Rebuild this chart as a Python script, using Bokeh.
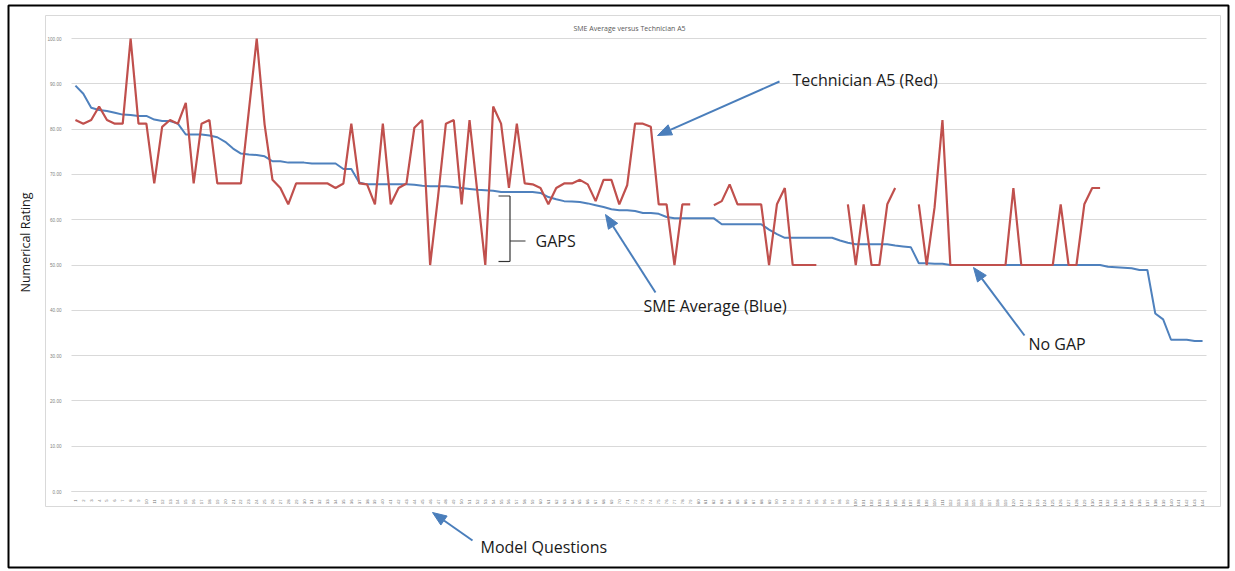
import math
from bokeh.plotting import figure
from bokeh.models import (Range1d, FixedTicker, Label, BoxAnnotation,
                          PolyAnnotation, NumeralTickFormatter)
from bokeh.embed import file_html
from bokeh.resources import INLINE

NA = float("nan")

# ---- data -------------------------------------------------------------
question_labels = [str(i) for i in range(1, 145)]

sme_average = [
    89.6, 87.8, 84.7, 84.2, 84.0, 83.6, 83.2, 83.1, 82.9, 82.9,
    82.1, 81.8, 81.8, 81.2, 78.8, 78.8, 78.8, 78.6, 78.2, 77.2,
    75.7, 74.6, 74.4, 74.3, 74.0, 72.9, 72.9, 72.6, 72.6, 72.6,
    72.4, 72.4, 72.4, 72.4, 71.2, 71.2, 68.2, 67.8, 67.8, 67.8,
    67.8, 67.8, 67.8, 67.7, 67.5, 67.4, 67.4, 67.4, 67.2, 67.0,
    66.8, 66.6, 66.5, 66.4, 66.1, 66.1, 66.1, 66.1, 66.1, 65.9,
    65.0, 64.5, 64.1, 64.0, 63.9, 63.6, 63.2, 62.8, 62.3, 62.1,
    62.1, 61.9, 61.5, 61.5, 61.3, 60.6, 60.3, 60.3, 60.3, 60.3,
    60.3, 60.3, 59.0, 59.0, 59.0, 59.0, 59.0, 59.0, 57.8, 56.8,
    56.0, 56.0, 56.0, 56.0, 56.0, 56.0, 56.0, 55.4, 54.9, 54.6,
    54.6, 54.6, 54.6, 54.6, 54.3, 54.1, 53.9, 50.4, 50.4, 50.3,
    50.3, 50.0, 50.0, 50.0, 50.0, 50.0, 50.0, 50.0, 50.0, 50.0,
    50.0, 50.0, 50.0, 50.0, 50.0, 50.0, 50.0, 50.0, 50.0, 50.0,
    50.0, 49.6, 49.5, 49.4, 49.3, 48.9, 48.9, 39.3, 38.0, 33.5,
    33.5, 33.5, 33.2, 33.2,
]

technician_a5 = [
    82.0, 81.2, 82.0, 85.0, 82.0, 81.2, 81.2, 100.0, 81.2, 81.2,
    68.0, 80.5, 82.0, 81.2, 85.8, 68.0, 81.2, 82.0, 68.0, 68.0,
    68.0, 68.0, 84.0, 100.0, 81.0, 68.8, 67.0, 63.4, 68.0, 68.0,
    68.0, 68.0, 68.0, 67.0, 68.0, 81.2, 68.0, 67.8, 63.4, 81.2,
    63.4, 67.0, 68.0, 80.3, 82.0, 50.0, 65.0, 81.2, 82.0, 63.4,
    82.0, 66.0, 50.0, 85.0, 81.2, 67.0, 81.2, 68.0, 67.8, 67.0,
    63.4, 67.0, 68.0, 68.0, 68.8, 67.8, 64.1, 68.8, 68.8, 63.4,
    67.6, 81.2, 81.2, 80.5, 63.4, 63.4, 50.0, 63.4, 63.4, NA,
    NA, 63.2, 64.1, 67.8, 63.4, 63.4, 63.4, 63.4, 50.0, 63.4,
    67.0, 50.0, 50.0, 50.0, 50.0, NA, NA, NA, 63.4, 50.0,
    63.4, 50.0, 50.0, 63.4, 67.0, NA, NA, 63.4, 50.0, 62.7,
    82.0, 50.0, 50.0, 50.0, 50.0, 50.0, 50.0, 50.0, 50.0, 67.0,
    50.0, 50.0, 50.0, 50.0, 50.0, 63.4, 50.0, 50.0, 63.4, 67.0,
    67.0, NA, NA, NA, NA, NA, NA, NA, NA, NA,
    NA, NA, NA, NA,
]

y_ticks = [0, 10, 20, 30, 40, 50, 60, 70, 80, 90, 100]

# ---- layout constants (pixels) ----------------------------------------
W, H = 1234, 570
PLOT_L, PLOT_R, PLOT_T, PLOT_B = 71, 1206, 38, 491   # data area in page px
n = len(question_labels)
x_lo, x_hi = -0.5, n - 0.5
y_lo, y_hi = 0, 100
sx = (PLOT_R - PLOT_L) / (x_hi - x_lo)
sy = (PLOT_B - PLOT_T) / (y_hi - y_lo)

idx = list(range(n))

# frame covers the whole canvas; axes are pinned at the data-area edges
p = figure(width=W, height=H,
           x_range=Range1d(x_lo - PLOT_L / sx, x_hi + (W - PLOT_R) / sx),
           y_range=Range1d(y_lo - (H - PLOT_B) / sy, y_hi + PLOT_T / sy),
           output_backend="svg", toolbar_location=None,
           min_border=0)

p.outline_line_color = None
p.background_fill_color = "white"
p.border_fill_color = "white"

p.xgrid.grid_line_color = None
grid = p.ygrid[0]
grid.ticker = FixedTicker(ticks=y_ticks)
grid.grid_line_color = "#d9d9d9"
grid.grid_line_width = 1
grid.bounds = (y_lo, y_hi)
if "cross_bounds" in grid.properties():
    grid.cross_bounds = (x_lo, x_hi)
else:
    grid.grid_line_color = None
    p.segment(x0=[x_lo] * len(y_ticks), x1=[x_hi] * len(y_ticks),
              y0=y_ticks, y1=y_ticks, line_color="#d9d9d9", line_width=1)

yax = p.yaxis[0]
yax.fixed_location = x_lo
yax.bounds = (y_lo, y_hi)
yax.ticker = FixedTicker(ticks=y_ticks)
yax.formatter = NumeralTickFormatter(format="0.00")
yax.axis_line_color = None
yax.major_tick_line_color = None
yax.minor_tick_line_color = None
yax.major_label_text_font_size = "4.6px"
yax.major_label_text_color = "#7f7f7f"
yax.major_label_standoff = 4

xax = p.xaxis[0]
xax.fixed_location = y_lo
xax.bounds = (x_lo, x_hi)
xax.ticker = FixedTicker(ticks=idx)
xax.major_label_overrides = {i: question_labels[i] for i in idx}
xax.major_label_orientation = math.pi / 2
xax.major_label_text_font_size = "4.2px"
xax.major_label_text_color = "#6f6f6f"
xax.axis_line_color = "#d9d9d9"
xax.major_tick_line_color = None
xax.minor_tick_line_color = None
xax.major_label_standoff = 2

p.line(idx, sme_average, line_color="#4F81BD", line_width=2)
p.line(idx, technician_a5, line_color="#C0504D", line_width=2.2)

# ---- decorations (canvas pixel units) ---------------------------------
def cbox(l, r, t, b, color, w):
    p.add_layout(BoxAnnotation(left=l, right=r, top=t, bottom=b,
                               left_units="canvas", right_units="canvas",
                               top_units="canvas", bottom_units="canvas",
                               fill_alpha=0, fill_color=None,
                               line_color=color, line_alpha=1.0, line_width=w))

cbox(45, 1220, 15, 506, "#d9d9d9", 1)
cbox(8, 1228, 5, 567, "black", 2)

FONT = "Open Sans"

def clabel(x, y, text, size="16px", angle=0.0, align="left", color="#1a1a1a"):
    p.add_layout(Label(x=x, y=y, x_units="canvas", y_units="canvas",
                       text=text, text_font=FONT, text_font_size=size,
                       text_color=color, text_baseline="middle",
                       text_align=align, angle=angle))

def cpoly(xs, ys, color, w, fill=None):
    p.add_layout(PolyAnnotation(xs=xs, ys=ys, xs_units="canvas", ys_units="canvas",
                                line_color=color, line_alpha=1.0, line_width=w,
                                fill_color=fill, fill_alpha=1.0 if fill else 0.0))

ARROW_BLUE = "#4A7EBB"

def carrow(tail, tip, head_len=14, head_w=11):
    (x0, y0), (x1, y1) = tail, tip
    dx, dy = x1 - x0, y1 - y0
    d = math.hypot(dx, dy)
    ux, uy = dx / d, dy / d
    bx, by = x1 - ux * head_len, y1 - uy * head_len
    px, py = -uy * head_w / 2, ux * head_w / 2
    cpoly([x0, bx], [y0, by], ARROW_BLUE, 2)
    cpoly([x1, bx + px, bx - px], [y1, by + py, by - py], ARROW_BLUE, 1, fill=ARROW_BLUE)

clabel(629, 28, "SME Average versus Technician A5", size="7px", align="center",
       color="#595959")

clabel(792, 79, "Technician A5 (Red)")
carrow((779, 81), (657, 135))

clabel(535, 240.5, "GAPS")
for xs, ys in [([498, 509.5], [195.5, 195.5]), ([509.5, 509.5], [195.5, 261]),
               ([498, 509.5], [261, 261]), ([509.5, 525], [240.5, 240.5])]:
    cpoly(xs, ys, "#333333", 1.2)

clabel(643, 305, "SME Average (Blue)")
carrow((655, 292), (605, 214))

clabel(1028, 343, "No GAP")
carrow((1024, 335), (973, 267))

clabel(480, 546, "Model Questions")
carrow((472, 540), (432, 512))

clabel(25, 242, "Numerical Rating", size="12.5px", angle=math.pi / 2, align="center")

open("out.html", "w").write(file_html(p, INLINE))
